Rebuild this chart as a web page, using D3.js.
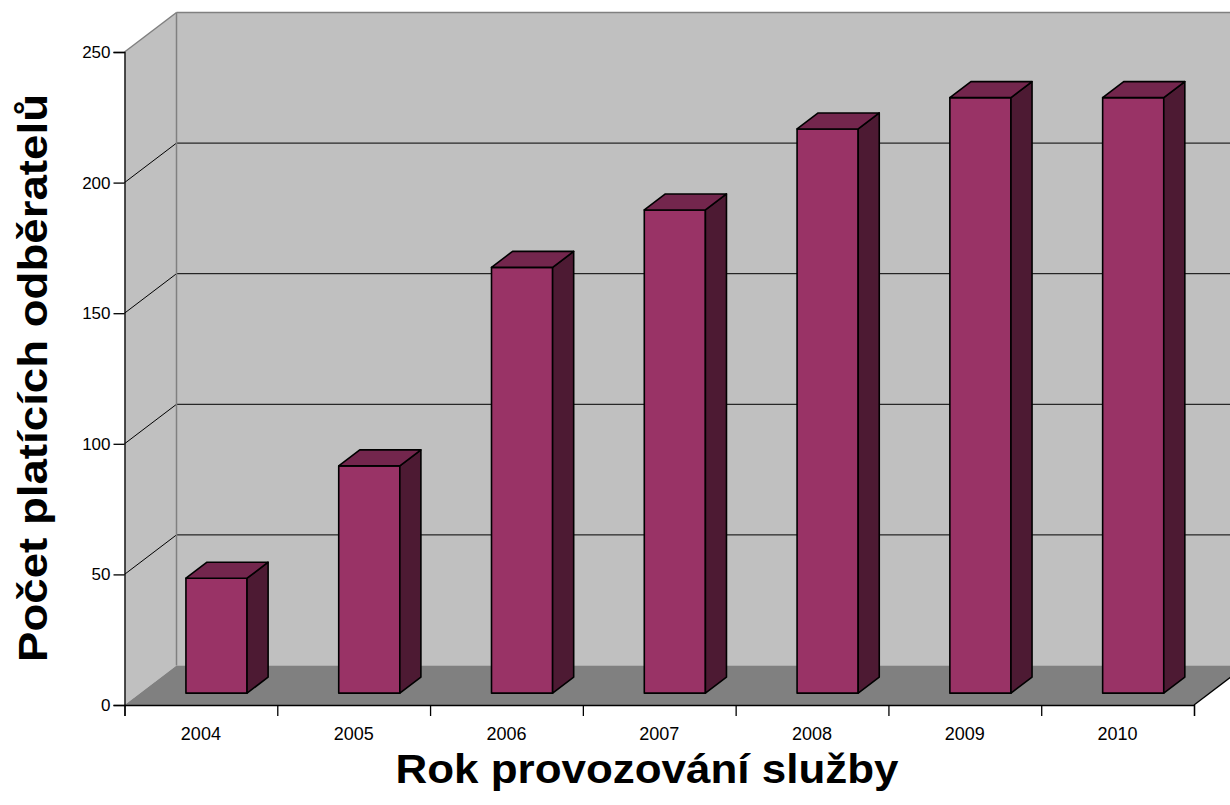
<!DOCTYPE html>
<html><head><meta charset="utf-8">
<script src="https://cdn.jsdelivr.net/npm/d3@7"></script>
<style>html,body{margin:0;padding:0;background:#fff;overflow:hidden}svg{display:block;font-family:"Liberation Sans",Arial,sans-serif}</style>
</head><body><svg id="c" width="1230" height="805"></svg>
<script>
const years = ["2004","2005","2006","2007","2008","2009","2010"];
const values = [44, 87, 163, 185, 216, 228, 228];
const yTicks = [0, 50, 100, 150, 200, 250];
const yTitle = "Počet platících odběratelů";
const xTitle = "Rok provozování služby";

const svg = d3.select("#c");
const W = 1230;
const x0 = 124.5, x1 = 1194, yBot = 705, yTop = 52;
const DX = 52, DY = 39.5;           // full depth offset
const fFront = 0.30, fBack = 0.705;  // bar depth position
const y = d3.scaleLinear().domain([0, 250]).range([yBot, yTop]);
const xb = d3.scaleBand().domain(years).range([x0, x1]).paddingInner(0.6).paddingOuter(0.3);
const xl = d3.scaleLinear().domain([0, years.length]).range([x0, x1]);
const P = (x, yy, f) => [x + f * DX, yy - f * DY];
const poly = pts => "M" + pts.map(p => p.join(",")).join("L") + "Z";

// walls
const gW = svg.append("g");
gW.append("rect").attr("x", x0 + DX).attr("y", yTop - DY).attr("width", W - x0 - DX + 10)
  .attr("height", (yBot - DY) - (yTop - DY)).attr("fill", "#c0c0c0");
gW.append("path").attr("d", poly([P(x0, yTop, 0), P(x0, yTop, 1), P(x0, yBot, 1), P(x0, yBot, 0)])).attr("fill", "#c0c0c0");
gW.append("path").attr("d", poly([P(x0, yBot, 0), P(x0, yBot, 1), P(x1, yBot, 1), P(x1, yBot, 0)])).attr("fill", "#808080");

// gridlines
const grid = yTicks.filter(v => v > 0 && v < 250);
gW.selectAll("line.gb").data(grid).join("line")
  .attr("x1", x0 + DX).attr("x2", W + 5)
  .attr("y1", d => y(d) - DY).attr("y2", d => y(d) - DY)
  .attr("stroke", "#000").attr("stroke-width", 1);
gW.selectAll("line.gl").data(grid).join("line")
  .attr("x1", x0).attr("x2", x0 + DX)
  .attr("y1", d => y(d)).attr("y2", d => y(d) - DY)
  .attr("stroke", "#000").attr("stroke-width", 1);

// wall edges
gW.append("line").attr("x1", x0 + DX).attr("x2", x0 + DX).attr("y1", y(250) - DY).attr("y2", y(0) - DY)
  .attr("stroke", "#808080").attr("stroke-width", 1.5);
gW.append("line").attr("x1", x0).attr("y1", y(250)).attr("x2", x0 + DX).attr("y2", y(250) - DY)
  .attr("stroke", "#808080").attr("stroke-width", 1.5);
gW.append("line").attr("x1", x0 + DX).attr("y1", y(250) - DY).attr("x2", W + 5).attr("y2", y(250) - DY)
  .attr("stroke", "#808080").attr("stroke-width", 1.5);

// bars
const gB = svg.append("g").attr("stroke", "#000").attr("stroke-width", 1.6).attr("stroke-linejoin", "round");
years.forEach((yr, i) => {
  const xa = xb(yr), xc = xb(yr) + xb.bandwidth();
  const yv = y(values[i]), y0 = y(0);
  const g = gB.append("g");
  g.append("path").attr("fill", "#993366")
    .attr("d", poly([P(xa, yv, fFront), P(xc, yv, fFront), P(xc, y0, fFront), P(xa, y0, fFront)]));
  g.append("path").attr("fill", "#4d1a33")
    .attr("d", poly([P(xc, yv, fFront), P(xc, yv, fBack), P(xc, y0, fBack), P(xc, y0, fFront)]));
  g.append("path").attr("fill", "#73264d")
    .attr("d", poly([P(xa, yv, fFront), P(xa, yv, fBack), P(xc, yv, fBack), P(xc, yv, fFront)]));
});

// y axis
const ya = svg.append("g").attr("transform", `translate(${x0},0)`)
  .call(d3.axisLeft(y).tickValues(yTicks).tickSize(11).tickPadding(3).tickFormat(d3.format("d")));
ya.select(".domain").attr("stroke", "#000").attr("stroke-width", 1.3);
ya.selectAll(".tick line").attr("stroke", "#000").attr("stroke-width", 1.3);
ya.selectAll(".tick text").attr("font-size", 17).attr("fill", "#000")
  .attr("font-family", "'Liberation Sans',Arial,sans-serif");

// x axis
const xa = svg.append("g").attr("transform", `translate(0,${yBot})`)
  .call(d3.axisBottom(xl).ticks(years.length).tickSize(11).tickFormat(""));
xa.select(".domain").attr("stroke", "#000").attr("stroke-width", 1.3);
xa.selectAll(".tick line").attr("stroke", "#000").attr("stroke-width", 1.3);
svg.append("g").selectAll("text").data(years).join("text")
  .attr("x", d => xb(d) + xb.bandwidth() / 2).attr("y", 740)
  .attr("text-anchor", "middle").attr("font-size", 18).attr("fill", "#000").text(d => d);
svg.append("line").attr("x1", x1).attr("y1", yBot).attr("x2", x1 + DX).attr("y2", yBot - DY)
  .attr("stroke", "#000").attr("stroke-width", 1.3);

// titles
svg.append("text").attr("x", 647).attr("y", 783).attr("text-anchor", "middle")
  .attr("font-size", 40).attr("font-weight", "bold").attr("fill", "#000")
  .attr("textLength", 503).attr("lengthAdjust", "spacingAndGlyphs").text(xTitle);
svg.append("text").attr("transform", "translate(47,378) rotate(-90)").attr("text-anchor", "middle")
  .attr("font-size", 40).attr("font-weight", "bold").attr("fill", "#000")
  .attr("textLength", 568).attr("lengthAdjust", "spacingAndGlyphs").text(yTitle);
</script></body></html>
